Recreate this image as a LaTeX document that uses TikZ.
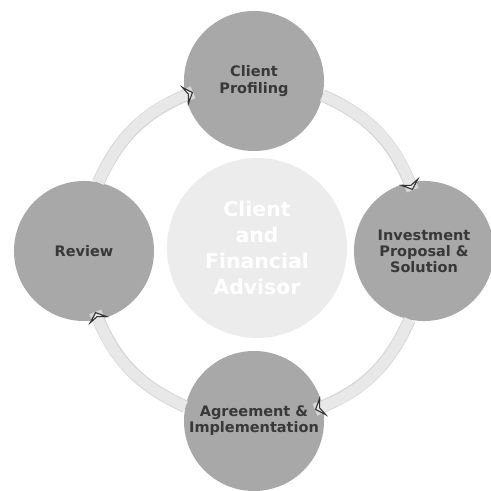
\documentclass[tikz,border=0pt]{standalone}
\usepackage{fontspec}
\setmainfont{DejaVu Sans}
\usetikzlibrary{arrows.meta}

\tikzset{
  stage/.style={circle, fill=gray!68, minimum size=3.5cm, inner sep=0pt, align=center,
    text=black!78, font=\fontsize{10.3}{11.5}\selectfont\bfseries},
  hubnode/.style={circle, fill=gray!15, minimum size=4.5cm, inner sep=0pt, align=center,
    text=white, font=\fontsize{14.5}{18.5}\selectfont\bfseries},
  flow/.style={line width=7.6pt, draw=gray!18,
    preaction={draw=gray!32, line width=9pt, -},
    -{Stealth[length=7pt, width=16pt, inset=3pt, fill=gray!16, color=gray!40!black, line width=0.8pt]}},
}

\begin{document}
\begin{tikzpicture}[x=0.025cm, y=0.025cm]
\useasboundingbox (-254,-240) rectangle (237,251);
% Centre circle
\node[hubnode] (hub) at (3,3) {Client\\and\\Financial\\Advisor};
% Stages around the ring
\foreach \a/\n/\t in {90/profiling/{Client\\Profiling}, 0/proposal/{Investment\\Proposal \&\\Solution},
    270/agreement/{Agreement \&\\Implementation}, 180/review/{Review}}
    \node[stage] (\n) at (\a:170) {\t};
% Points where the ring meets each stage
\foreach \a/\n in {90/profiling, 0/proposal, 270/agreement, 180/review} {
    \coordinate (\n-in) at ({\a+21}:170);
    \coordinate (\n-out) at ({\a-23.8}:170);
}
% Ring arrows, clockwise
\draw[flow] (review-out) to[bend left=22.4] (profiling-in);
\draw[flow] (profiling-out) to[bend left=22.4] (proposal-in);
\draw[flow] (proposal-out) to[bend left=22.4] (agreement-in);
\draw[flow] (agreement-out) to[bend left=22.4] (review-in);
\end{tikzpicture}
\end{document}
